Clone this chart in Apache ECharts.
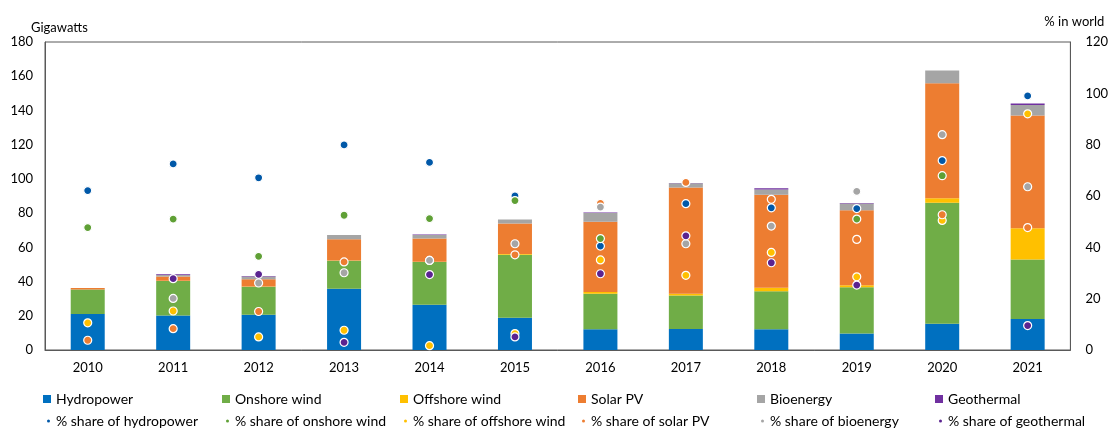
<!DOCTYPE html>
<html>
<head>
<meta charset="utf-8">
<script src="https://cdn.jsdelivr.net/npm/echarts@6/dist/echarts.min.js"></script>
<style>
  html, body { margin: 0; padding: 0; background: #fff; }
  #chart { width: 1111px; height: 430px; }
</style>
</head>
<body>
<div id="chart"></div>
<script>
var years = ['2010', '2011', '2012', '2013', '2014', '2015', '2016', '2017', '2018', '2019', '2020', '2021'];

// capacity additions, GW
var hydro    = [21.0, 20.2, 20.6, 35.8, 26.5, 18.9, 12.1, 12.3, 12.1, 9.7, 15.4, 18.1];
var onshore  = [14.4, 20.1, 16.4, 16.4, 24.9, 36.8, 20.8, 19.5, 22.3, 26.9, 70.6, 34.8];
var offshore = [0, 0.2, 0.1, 0.1, 0.2, 0.4, 1.0, 1.1, 2.0, 1.3, 2.7, 18.3];
var solar    = [0.8, 2.5, 4.3, 12.4, 13.5, 17.9, 41.1, 62.0, 54.3, 43.8, 67.2, 65.8];
var bio      = [0, 0.8, 1.5, 2.5, 2.1, 2.2, 5.1, 2.5, 3.1, 3.9, 7.4, 6.2];
var geo      = [0, 0.5, 0.3, 0, 0.3, 0, 0.3, 0.2, 0.8, 0.3, 0, 0.8];

// % share in world
var shHydro    = [62.1, 72.5, 67.1, 79.9, 73.1, 60.0, 40.5, 57.0, 55.4, 55.1, 73.8, 99.0];
var shOnshore  = [47.7, 51.0, 36.5, 52.5, 51.2, 58.2, 43.4, null, null, 51.0, 67.9, null];
var shOffshore = [10.6, 15.2, 5.1, 7.7, 1.7, 6.4, 35.1, 29.1, 38.0, 28.5, 50.5, 92.0];
var shSolar    = [3.8, 8.3, 15.0, 34.3, 34.9, 37.1, 57.1, 65.3, 58.7, 43.1, 52.7, 47.7];
var shBio      = [null, 20.1, 26.1, 30.1, 34.9, 41.4, 55.7, 41.4, 48.3, 61.8, 83.9, 63.6];
var shGeo      = [null, 27.8, 29.5, 3.0, 29.4, 5.1, 29.7, 44.5, 34.0, 25.3, null, 9.5];

var leftTicks = [0, 180, 20];
var rightTicks = [0, 120, 20];

var FONT = 'Lato';
var barNames = ['Hydropower', 'Onshore wind', 'Offshore wind', 'Solar PV', 'Bioenergy', 'Geothermal'];
var dotNames = ['% share of hydropower', '% share of onshore wind', '% share of offshore wind', '% share of solar PV', '% share of bioenergy', '% share of geothermal'];
var barColors = ['#0070C0', '#70AD47', '#FFC000', '#ED7D31', '#A5A5A5', '#7030A0'];
var dotColors = ['#0058A8', '#5FA035', '#FFC000', '#ED7D31', '#A5A5A5', '#5B2390'];
var barData = [hydro, onshore, offshore, solar, bio, geo];
var dotData = [shHydro, shOnshore, shOffshore, shSolar, shBio, shGeo];
var legendX = [43, 222, 400, 578, 757, 935];

var series = [];
barNames.forEach(function(n, i) {
  series.push({
    name: n,
    type: 'bar',
    stack: 'gw',
    barWidth: 34,
    data: barData[i],
    itemStyle: { color: barColors[i] },
    emphasis: { disabled: true }
  });
});
dotNames.forEach(function(n, i) {
  series.push({
    name: n,
    type: 'scatter',
    yAxisIndex: 1,
    symbolSize: 8,
    data: dotData[i],
    itemStyle: { color: dotColors[i], borderColor: '#fff', borderWidth: 1.2, opacity: 1 },
    emphasis: { disabled: true }
  });
});

var legends = [];
barNames.forEach(function(n, i) {
  legends.push({
    data: [n], left: legendX[i], top: 392, padding: 0, icon: 'rect', itemWidth: 8, itemHeight: 8,
    textStyle: { fontFamily: FONT, fontSize: 14, color: '#000' }, selectedMode: false
  });
});
dotNames.forEach(function(n, i) {
  legends.push({
    data: [n], left: legendX[i] + 2, top: 414, padding: 0, icon: 'circle', itemWidth: 5, itemHeight: 5,
    textStyle: { fontFamily: FONT, fontSize: 14, color: '#000' }, selectedMode: false
  });
});

var option = {
  animation: false,
  textStyle: { fontFamily: FONT },
  grid: {
    left: 45, right: 38, top: 42, bottom: 80,
    show: true, borderColor: '#595959', borderWidth: 1
  },
  legend: legends,
  xAxis: [{
    type: 'category',
    data: years,
    axisLine: { lineStyle: { color: '#595959', width: 1 } },
    axisTick: { show: false },
    axisLabel: { color: '#000', fontSize: 13, fontFamily: FONT, margin: 11 }
  }],
  yAxis: [{
    type: 'value',
    name: 'Gigawatts',
    nameLocation: 'end',
    nameGap: 8,
    nameTextStyle: { color: '#000', fontSize: 13, fontFamily: FONT, align: 'left', padding: [0, 0, 0, -14] },
    min: leftTicks[0], max: leftTicks[1], interval: leftTicks[2],
    axisLine: { show: true, lineStyle: { color: '#595959' } },
    axisTick: { show: false },
    splitLine: { show: false },
    axisLabel: { color: '#000', fontSize: 13, fontFamily: FONT, margin: 12 }
  }, {
    type: 'value',
    name: '% in world',
    nameLocation: 'end',
    nameGap: 14,
    nameTextStyle: { color: '#000', fontSize: 13, fontFamily: FONT, align: 'right', padding: [0, -34, 0, 0] },
    min: rightTicks[0], max: rightTicks[1], interval: rightTicks[2],
    position: 'right',
    axisLine: { show: true, lineStyle: { color: '#595959' } },
    axisTick: { show: false },
    splitLine: { show: false },
    axisLabel: { color: '#000', fontSize: 13, fontFamily: FONT, margin: 15 }
  }],
  series: series
};

var chart = echarts.init(document.getElementById('chart'));
chart.setOption(option);
</script>
</body>
</html>
